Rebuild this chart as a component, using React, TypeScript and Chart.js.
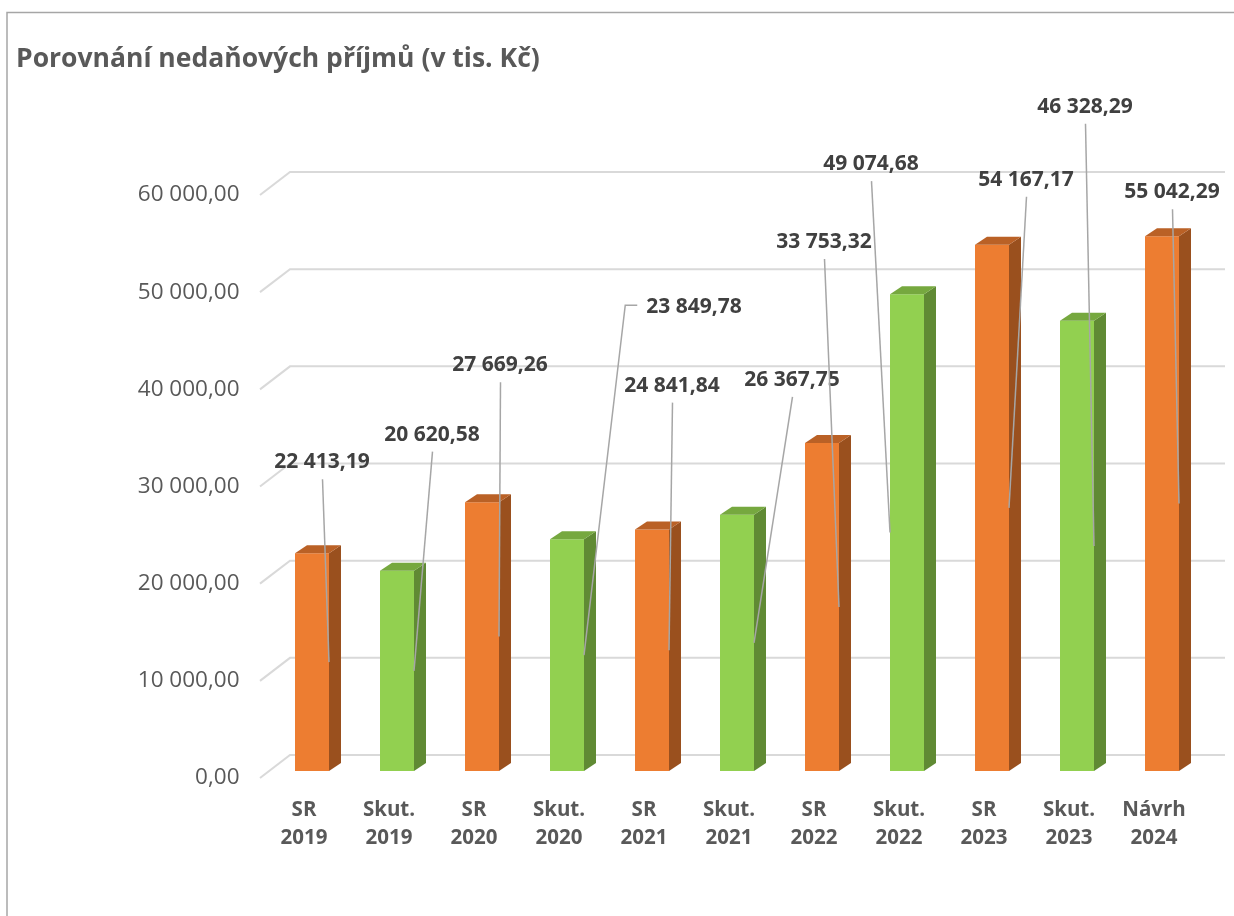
import React, { useEffect, useRef } from "react";
import { Chart, registerables } from "chart.js";

Chart.register(...registerables);

// ---------- DATA ----------
const categories: string[][] = [
  ["SR", "2019"],
  ["Skut.", "2019"],
  ["SR", "2020"],
  ["Skut.", "2020"],
  ["SR", "2021"],
  ["Skut.", "2021"],
  ["SR", "2022"],
  ["Skut.", "2022"],
  ["SR", "2023"],
  ["Skut.", "2023"],
  ["Návrh", "2024"],
];
const values: number[] = [
  22413.19, 20620.58, 27669.26, 23849.78, 24841.84, 26367.75, 33753.32,
  49074.68, 54167.17, 46328.29, 55042.29,
];
const kinds: string[] = [
  "SR", "Skut", "SR", "Skut", "SR", "Skut", "SR", "Skut", "SR", "Skut", "Návrh",
];
const yMin = 0;
const yMax = 60000;
const yStep = 10000;
const TITLE = "Porovnání nedaňových příjmů (v tis. Kč)";

// ---------- STYLE / LAYOUT ----------
const FONT = "'Open Sans', 'DejaVu Sans', sans-serif";
const PALETTE: Record<string, { front: string; top: string; side: string }> = {
  orange: { front: "#ED7D31", top: "#BA6126", side: "#9A501E" },
  green: { front: "#92D050", top: "#76A83F", side: "#608A34" },
};
const kindColor = (k: string) => (k === "Skut" ? PALETTE.green : PALETTE.orange);

// label placement offsets relative to bar front-centre x and bar top y
const LABEL_OFFSETS = [
  { dx: 10, dy: -91 },
  { dx: 35, dy: -136 },
  { dx: 18, dy: -137 },
  { dx: 127, dy: -232 },
  { dx: 20, dy: -144 },
  { dx: 55, dy: -135 },
  { dx: 2, dy: -201 },
  { dx: -36, dy: -130 },
  { dx: 34, dy: -65 },
  { dx: 8, dy: -214 },
  { dx: 10, dy: -44 },
];
const LEADER_SIDE = ["r", "r", "r", "r", "r", "r", "r", "l", "r", "r", "r"];
const ELBOW = [false, false, false, true, false, false, false, false, false, false, false];

const DEPTH_X = 12;
const DEPTH_Y = 8;

function fmt(v: number): string {
  const [i, d] = v.toFixed(2).split(".");
  const withSp = i.replace(/\B(?=(\d{3})+(?!\d))/g, " ");
  return withSp + "," + d;
}

const decoPlugin = {
  id: "deco",
  beforeDraw(chart: any) {
    const ctx = chart.ctx as CanvasRenderingContext2D;
    const W = chart.width;
    const H = chart.height;
    ctx.save();
    ctx.fillStyle = "#FFFFFF";
    ctx.fillRect(0, 0, W, H);
    // frame
    ctx.strokeStyle = "#A6A6A6";
    ctx.lineWidth = 1.5;
    ctx.beginPath();
    ctx.moveTo(7, H);
    ctx.lineTo(7, 12.5);
    ctx.lineTo(W, 12.5);
    ctx.stroke();
    // title
    ctx.fillStyle = "#595959";
    ctx.font = `bold 26.5px ${FONT}`;
    ctx.textAlign = "left";
    ctx.textBaseline = "alphabetic";
    ctx.fillText(TITLE, 16, 67);
    // gridlines (3D wall style)
    const ys = chart.scales.y;
    const area = chart.chartArea;
    ctx.strokeStyle = "#D9D9D9";
    ctx.lineWidth = 2;
    for (let v = yMin; v <= yMax; v += yStep) {
      const py = ys.getPixelForValue(v);
      ctx.beginPath();
      ctx.moveTo(area.left - 9.5, py + 7);
      ctx.lineTo(area.left + 20.5, py - 16);
      ctx.lineTo(area.right + 20.5, py - 16);
      ctx.stroke();
    }
    ctx.restore();
  },
  afterDatasetsDraw(chart: any) {
    const ctx = chart.ctx as CanvasRenderingContext2D;
    const meta = chart.getDatasetMeta(0);
    const ys = chart.scales.y;
    ctx.save();
    meta.data.forEach((bar: any, i: number) => {
      const p = bar.getProps(["x", "y", "base", "width"], true);
      const l = p.x - p.width / 2;
      const r = p.x + p.width / 2;
      const c = kindColor(kinds[i]);
      // side
      ctx.fillStyle = c.side;
      ctx.beginPath();
      ctx.moveTo(r, p.y);
      ctx.lineTo(r + DEPTH_X, p.y - DEPTH_Y);
      ctx.lineTo(r + DEPTH_X, p.base - DEPTH_Y);
      ctx.lineTo(r, p.base);
      ctx.closePath();
      ctx.fill();
      // top
      ctx.fillStyle = c.top;
      ctx.beginPath();
      ctx.moveTo(l, p.y);
      ctx.lineTo(l + DEPTH_X, p.y - DEPTH_Y);
      ctx.lineTo(r + DEPTH_X, p.y - DEPTH_Y);
      ctx.lineTo(r, p.y);
      ctx.closePath();
      ctx.fill();
    });
    // leaders + labels
    ctx.font = `bold 21px ${FONT}`;
    ctx.textAlign = "center";
    ctx.textBaseline = "middle";
    meta.data.forEach((bar: any, i: number) => {
      const p = bar.getProps(["x", "y", "base", "width"], true);
      const off = LABEL_OFFSETS[i];
      const lx = p.x + off.dx;
      const ly = p.y + off.dy;
      const ax = LEADER_SIDE[i] === "r" ? p.x + p.width / 2 : p.x - p.width / 2;
      const ay = ys.getPixelForValue(values[i] / 2);
      const text = fmt(values[i]);
      const tw = ctx.measureText(text).width;
      ctx.strokeStyle = "#A6A6A6";
      ctx.lineWidth = 1.5;
      ctx.beginPath();
      if (ELBOW[i]) {
        const sx = lx - tw / 2 - 9;
        ctx.moveTo(sx, ly - 2);
        ctx.lineTo(sx - 12, ly - 2);
        ctx.lineTo(ax, ay);
      } else {
        ctx.moveTo(lx + 0.5, ly + 17);
        ctx.lineTo(ax, ay);
      }
      ctx.stroke();
      ctx.fillStyle = "#404040";
      ctx.fillText(text, lx, ly);
    });
    ctx.restore();
  },
};

export default function App() {
  const ref = useRef<HTMLCanvasElement | null>(null);
  useEffect(() => {
    if (!ref.current) return;
    const chart = new Chart(ref.current, {
      type: "bar",
      data: {
        labels: categories,
        datasets: [
          {
            data: values,
            backgroundColor: kinds.map((k) => kindColor(k).front),
            borderWidth: 0,
            barPercentage: 0.4,
            categoryPercentage: 1,
          },
        ],
      },
      options: {
        responsive: false,
        animation: false,
        devicePixelRatio: 1,
        layout: { padding: { left: 0, top: 188, right: 29.5, bottom: 45 } },
        plugins: {
          legend: { display: false },
          title: { display: false },
          tooltip: { enabled: false },
        },
        scales: {
          x: {
            grid: { display: false, drawTicks: false },
            border: { display: false },
            ticks: {
              color: "#595959",
              font: { family: FONT, size: 20.5, weight: "bold", lineHeight: 1.37 },
              labelOffset: -8,
              padding: 25,
              maxRotation: 0,
              autoSkip: false,
            },
            afterFit: (s: any) => {
              s.height = 100;
            },
          },
          y: {
            min: yMin,
            max: yMax,
            grid: { display: false, drawTicks: false },
            border: { display: false },
            ticks: {
              stepSize: yStep,
              color: "#595959",
              font: { family: FONT, size: 22.5 },
              padding: 30,
              labelOffset: 7,
              callback: (v: any) => fmt(Number(v)),
            },
            afterFit: (s: any) => {
              s.width = 269.5;
            },
          },
        },
      },
      plugins: [decoPlugin],
    });
    return () => chart.destroy();
  }, []);
  return (
    <div style={{ position: "fixed", left: 0, top: 0, width: 1234, height: 916 }}>
      <canvas ref={ref} width={1234} height={916} />
    </div>
  );
}
